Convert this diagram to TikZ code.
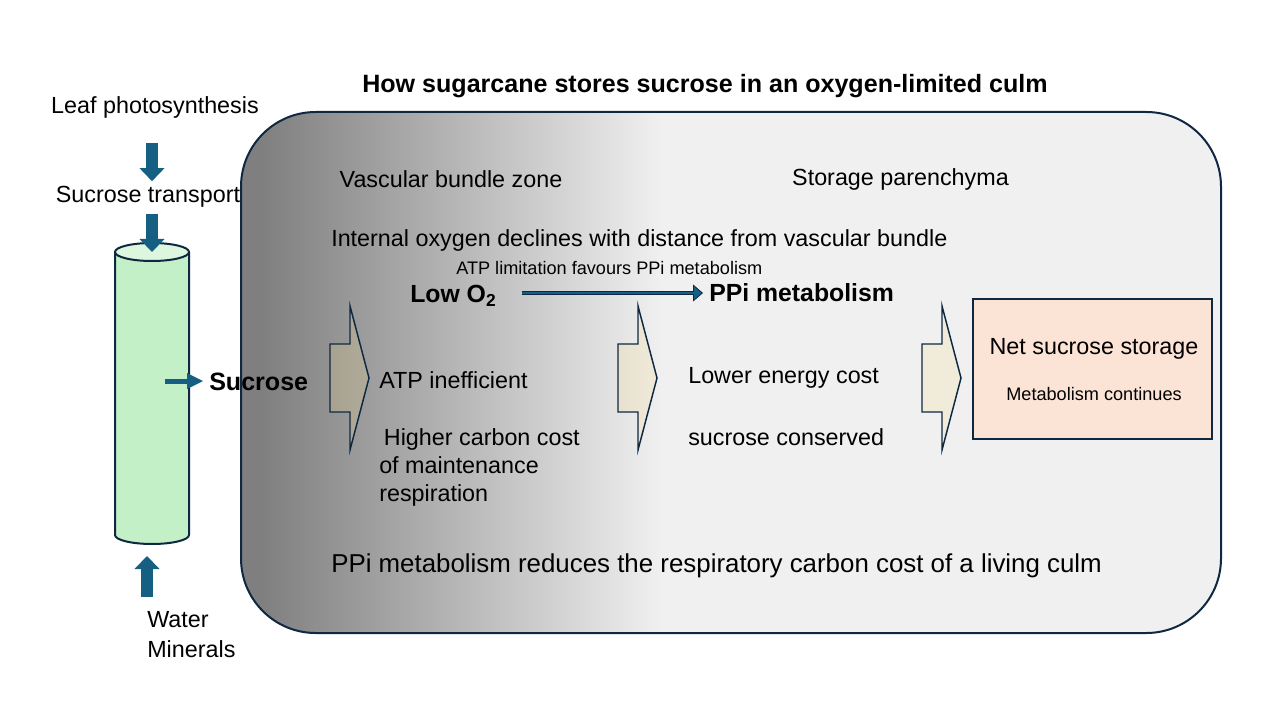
\documentclass[tikz,border=0pt]{standalone}
\usepackage{fontspec}
\setmainfont{Liberation Sans}
\usepackage{tikz}
\usetikzlibrary{
	arrows.meta,
	calc,
	positioning
}
\definecolor{navyline}{HTML}{0E2841}
\definecolor{flowblue}{HTML}{156082}
\definecolor{culmgreen}{HTML}{C4F0C8}
\definecolor{culmtopgreen}{HTML}{DDF6DE}
\definecolor{storepeach}{HTML}{FBE3D6}
\definecolor{chevtan}{HTML}{F8DA8C}
\definecolor{zonegray}{HTML}{7F7F7F}
\definecolor{zonelight}{HTML}{F0F0F0}

\begin{document}
\begin{tikzpicture}[x=0.75pt, y=-0.75pt,
	txt/.style={inner sep=0pt, font=\fontsize{17.5}{21}\selectfont},
	small/.style={inner sep=0pt, font=\fontsize{13.6}{16}\selectfont},
	hd/.style={inner sep=0pt, font=\fontsize{18.8}{22}\selectfont\bfseries},
	big/.style={inner sep=0pt, font=\fontsize{18.6}{22}\selectfont\bfseries},
	block/.style={draw=flowblue, line width=9pt, -{Triangle[width=18.75pt, length=9.75pt, line width=0pt]}},
	smallblock/.style={draw=flowblue, line width=3.75pt, -{Triangle[width=12pt, length=12pt, line width=0pt]}},
	o2arrow/.style={draw=navyline, line width=3pt, -{Triangle[width=12.75pt, length=7.5pt, fill=flowblue, line width=0.6pt]},
		postaction={draw=flowblue, line width=1.5pt, arrows=-, shorten >=10pt}},
	chevron/.style={draw=navyline, line width=1.1pt, fill=chevtan, fill opacity=0.22, line join=miter},
	culm/.style={draw=navyline, line width=1.5pt, fill=culmgreen}
	]
	\useasboundingbox (0,0) rectangle (1280,720);
	% culm zone with gradient
	\begin{scope}
		\clip[rounded corners=56pt] (241,112) rectangle (1221,633);
		\fill[zonelight] (241,112) rectangle (1221,633);
		\fill[zonegray] (241,112) rectangle (262,633);
		\shade[left color=zonegray, right color=zonelight] (261,112) rectangle (662,633);
	\end{scope}
	\draw[navyline, line width=1.5pt, rounded corners=56pt] (241,112) rectangle (1221,633);
	% stalk
	\coordinate (culmtop) at (152,252);
	\coordinate (culmbot) at (152,535);
	\coordinate (culmmid) at (165,381);
	\filldraw[culm] (115,252) -- (115,535) arc[start angle=180, end angle=360, x radius=27.75pt, y radius=6.75pt] -- (189,252);
	\filldraw[culm, fill=culmtopgreen] (culmtop) ellipse[x radius=27.75pt, y radius=6.75pt];
	% chevrons
	\foreach \cx in {330,618,922}
		\filldraw[chevron] (\cx,344) -- ++(20,0) -- ++(0,-38) -- ++(19,72) -- ++(-19,72) -- ++(0,-38) -- ++(-20,0) -- cycle;
	% store box
	\node[draw=navyline, line width=1.5pt, fill=storepeach, minimum width=179.25pt, minimum height=105pt] (store) at (1092.5,369) {};
	% labels
	\node[hd] (title) at (705,86) {How sugarcane stores sucrose in an oxygen-limited culm};
	\node[txt] (leaf) at (155,107) {Leaf photosynthesis};
	\node[txt] (transport) at (148,197) {Sucrose transport};
	\node[txt, anchor=west, align=left, font=\fontsize{17.5}{22.5}\selectfont] (water) at (147,635) {Water\\Minerals};
	\node[hd, anchor=west] (sucrose) at (209,382) {Sucrose};
	\node[txt] (vasc) at (451,179) {Vascular bundle zone};
	\node[txt] (paren) at (900.5,179) {Storage parenchyma};
	\node[txt, anchor=west] (decline) at (331,240) {Internal oxygen declines with distance from vascular bundle};
	\node[small, anchor=west] (favour) at (456,268) {ATP limitation favours PPi metabolism};
	\node[big, anchor=west] (lowo2) at (410,296) {Low O\textsubscript{2}};
	\node[big, anchor=west] (ppi) at (709,293) {PPi metabolism};
	\node[txt, anchor=west] (atpineff) at (379,380) {ATP inefficient};
	\node[txt, anchor=west, align=left, font=\fontsize{17.5}{21}\selectfont] (carbon) at (379,467) {\hspace*{3.5pt}Higher carbon cost\\of maintenance\\respiration};
	\node[txt, anchor=west] (lowcost) at (688,378) {Lower energy cost};
	\node[txt, anchor=west] (conserved) at (688,437) {sucrose conserved};
	\node[txt] (net) at (1094,349) {Net sucrose storage};
	\node[small] (cont) at (1094,394) {Metabolism continues};
	\node[txt, anchor=west, font=\fontsize{19.4}{23}\selectfont] (summary) at (331,566) {PPi metabolism reduces the respiratory carbon cost of a living culm};
	% flows
	\draw[block, shorten <=18.75pt, shorten >=3.75pt] (leaf.south -| culmtop) -- (transport.north -| culmtop);
	\draw[block, shorten <=4.5pt] (transport.south -| culmtop) -- (culmtop);
	\draw[block, shorten <=11.25pt, shorten >=15.75pt] (water.north west) -- (culmbot -| water.west);
	\draw[smallblock, shorten >=4.5pt] (culmmid) -- (sucrose.west |- culmmid);
	\draw[o2arrow, shorten <=18.75pt, shorten >=4.5pt] (ppi.west -| lowo2.east) -- (ppi.west);
\end{tikzpicture}
\end{document}
